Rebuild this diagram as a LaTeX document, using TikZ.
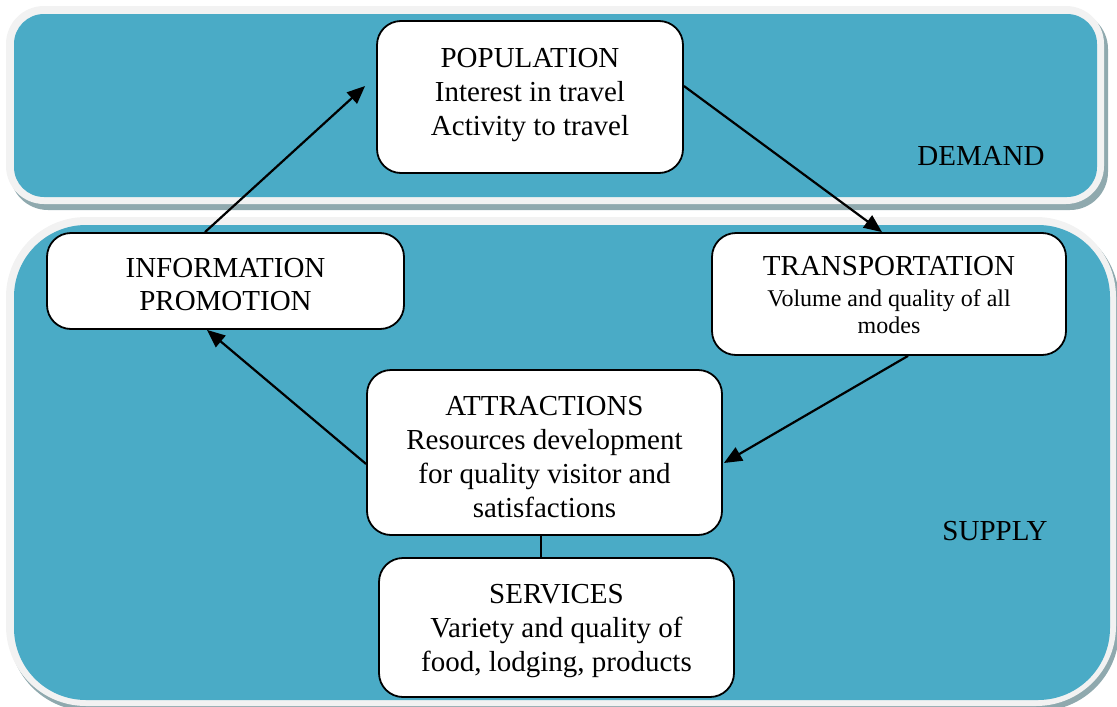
\documentclass[tikz,border=0pt]{standalone}
\usepackage{fontspec}
\setmainfont{Liberation Serif}
\newfontfamily\tnr{Liberation Serif}
\usetikzlibrary{arrows.meta}
\definecolor{panelfill}{RGB}{74,171,198}
\definecolor{rimcol}{RGB}{242,242,242}
\definecolor{shadecol}{RGB}{143,169,174}
\newcommand{\bigtxt}{\tnr\fontsize{29}{34}\selectfont}
\newcommand{\smalltxt}{\tnr\fontsize{24}{27}\selectfont}
\begin{document}
\begin{tikzpicture}[x=1pt,y=-1pt,
  box/.style={draw=black,line width=1.8pt,fill=white,rounded corners=24pt,inner sep=0pt},
  txt/.style={align=center,inner sep=0pt,font=\bigtxt},
  big/.style={font=\bigtxt},
  flow/.style={line width=2.2pt,-{Triangle[length=18pt,width=15pt]}},
  link/.style={line width=1.8pt}]
\useasboundingbox (0,0) rectangle (1117,707);
% DEMAND panel
\fill[shadecol,rounded corners=38pt] (10,11) rectangle (1108,210);
\fill[rimcol,rounded corners=38pt] (6,6) rectangle (1104,204);
\fill[panelfill,rounded corners=30pt] (14,14) rectangle (1097,197);
% SUPPLY panel
\fill[shadecol,rounded corners=80pt] (9,221) rectangle (1119,711);
\fill[rimcol,rounded corners=80pt] (6,217) rectangle (1116,706);
\fill[panelfill,rounded corners=72pt] (14,225) rectangle (1110,700);
% labels
\node[big] (demand) at (981,156) {DEMAND};
\node[big] (supply) at (995,531) {SUPPLY};
% boxes
\node[box,minimum width=306pt,minimum height=152pt] (pop) at (530,97) {};
\node[box,minimum width=357pt,minimum height=96pt] (info) at (225.5,281) {};
\node[box,minimum width=354pt,minimum height=122pt] (trans) at (889,294) {};
\node[box,minimum width=355pt,minimum height=165pt] (attr) at (544.5,452.5) {};
\node[box,minimum width=355pt,minimum height=139pt] (serv) at (556.5,627.5) {};
% box texts
\node[txt] (popt) at ([yshift=1.5pt]pop.center)
  {POPULATION\\Interest in travel\\Activity to travel};
\node[txt,font=\bigtxt\fontsize{29}{33}\selectfont] (infot) at ([yshift=-3.5pt]info.center)
  {INFORMATION\\PROMOTION};
\node[txt,font=\smalltxt] (transt) at ([yshift=-1pt]trans.center)
  {\bigtxt TRANSPORTATION\\[4pt]Volume and quality of all\\modes};
\node[txt] (attrt) at ([yshift=-5pt]attr.center)
  {ATTRACTIONS\\Resources development\\for quality visitor and\\satisfactions};
\node[txt] (servt) at ([yshift=-4pt]serv.center)
  {SERVICES\\Variety and quality of\\food, lodging, products};
% connectors
\draw[link] ([xshift=-3.5pt]attr.south) -- ([xshift=-15.5pt]serv.north);
\draw[flow] ([xshift=-20.5pt]info.north) -- ([xshift=-11pt,yshift=11pt]pop.west);
\draw[flow] ([yshift=11pt]pop.east) -- ([xshift=-7pt]trans.north);
\draw[flow] ([xshift=19pt]trans.south) -- ([xshift=1pt,yshift=-10.5pt]attr.east);
\draw[flow] ([yshift=-11.5pt]attr.west) -- ([xshift=-18.5pt]info.south);
\end{tikzpicture}
\end{document}
